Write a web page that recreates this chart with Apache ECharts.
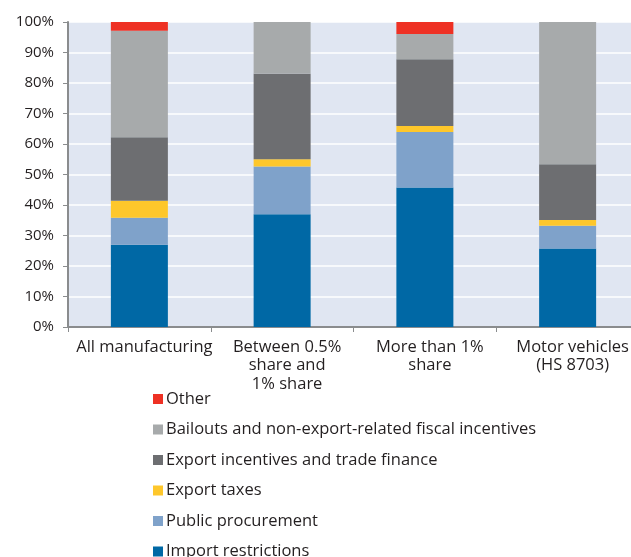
<!DOCTYPE html>
<html>
<head>
<meta charset="utf-8">
<script src="https://cdn.jsdelivr.net/npm/echarts@6/dist/echarts.min.js"></script>
<style>
  html, body { margin: 0; padding: 0; background: #fff; overflow: hidden; }
  #chart { width: 640px; height: 600px; }
</style>
</head>
<body>
<div id="chart"></div>
<script>
var categories = ['All manufacturing', 'Between 0.5%\nshare and\n1% share', 'More than 1%\nshare', 'Motor vehicles\n(HS 8703)'];
var importRestrictions = [27, 37, 45.7, 25.7];
var publicProcurement = [8.8, 15.6, 18.2, 7.5];
var exportTaxes = [5.6, 2.4, 2.0, 1.9];
var exportIncentives = [20.8, 28, 21.9, 18.3];
var bailouts = [34.9, 17, 8.3, 46.6];
var other = [2.9, 0, 3.9, 0];
var yTicks = [0, 10, 20, 30, 40, 50, 60, 70, 80, 90, 100];

var chart = echarts.init(document.getElementById('chart'));
var font = 'Open Sans';

function bar(name, data, color) {
  return {
    name: name,
    type: 'bar',
    stack: 'total',
    barWidth: 57,
    data: data,
    itemStyle: { color: color },
    emphasis: { disabled: true }
  };
}

chart.setOption({
  animation: false,
  textStyle: { fontFamily: font },
  // plot runs a little past the window's right edge, as in the reference
  grid: { left: 68, top: 22, right: 1, bottom: 273, show: true, backgroundColor: '#e0e6f2', borderWidth: 0 },
  legend: {
    orient: 'vertical',
    left: 148,
    top: 384,
    itemWidth: 10,
    itemHeight: 10,
    itemGap: 10.5,
    icon: 'rect',
    textStyle: { fontFamily: font, fontSize: 16.5, color: '#231f20', lineHeight: 20, padding: [0, 0, 0, -2] },
    data: ['Other', 'Bailouts and non-export-related fiscal incentives', 'Export incentives and trade finance', 'Export taxes', 'Public procurement', 'Import restrictions']
  },
  xAxis: {
    type: 'category',
    data: categories,
    axisLine: { lineStyle: { color: '#8a8c8e', width: 2 } },
    axisTick: { show: true, length: 5, lineStyle: { color: '#8a8c8e' } },
    axisLabel: { color: '#231f20', fontSize: 16.5, fontFamily: font, lineHeight: 18.5, margin: 11, interval: 0, padding: [0, 0, 0, 10] }
  },
  yAxis: {
    type: 'value',
    min: yTicks[0],
    max: yTicks[yTicks.length - 1],
    interval: 10,
    axisLine: { show: true, lineStyle: { color: '#8a8c8e', width: 2 } },
    axisTick: { show: true, length: 5, lineStyle: { color: '#8a8c8e' } },
    splitLine: { lineStyle: { color: '#ffffff', width: 1.5 } },
    axisLabel: { color: '#231f20', fontSize: 15, fontFamily: font, margin: 14, formatter: '{value}%' }
  },
  series: [
    bar('Import restrictions', importRestrictions, '#0068a5'),
    bar('Public procurement', publicProcurement, '#7fa2ca'),
    bar('Export taxes', exportTaxes, '#fec72b'),
    bar('Export incentives and trade finance', exportIncentives, '#6d6e71'),
    bar('Bailouts and non-export-related fiscal incentives', bailouts, '#a7aaab'),
    bar('Other', other, '#ee3124')
  ]
});
</script>
</body>
</html>
